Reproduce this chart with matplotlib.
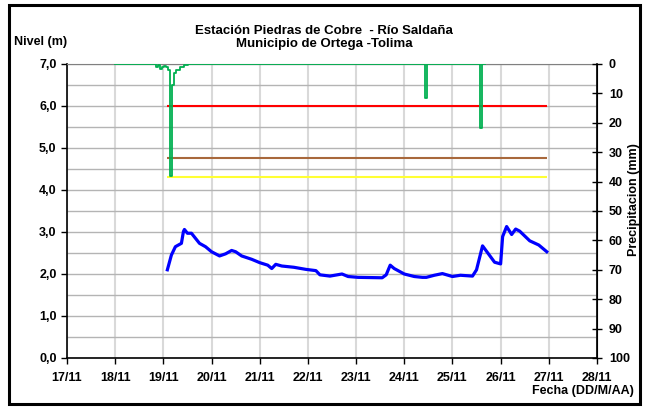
import numpy as np
import pandas as pd
import matplotlib
matplotlib.use("Agg")
import matplotlib.pyplot as plt
import matplotlib.dates as mdates
from matplotlib.patches import Rectangle
from matplotlib.ticker import FuncFormatter, MultipleLocator

plt.rcParams['font.family'] = ['Liberation Sans', 'DejaVu Sans']
plt.rcParams['font.weight'] = 'bold'

start = pd.Timestamp('2012-11-19 00:00')

# nivel (m): horas desde 19/11 00:00
nivel_horas = [2, 4, 6, 9, 10, 10.5, 12, 14, 16, 18, 21, 24, 28, 31, 34, 36, 39, 44, 48,
               52, 54, 56, 59, 65, 71, 76, 78, 83, 89, 92, 97, 109, 111, 113, 115, 120,
               125, 129, 131, 135, 139, 144, 148, 154, 156, 159, 163, 165, 168, 169, 171,
               173.5, 175.5, 177.5, 182.5, 187, 191]
nivel_m = [2.10, 2.45, 2.65, 2.73, 3.01, 3.06, 2.97, 2.97, 2.85, 2.73, 2.65, 2.53, 2.43,
           2.48, 2.56, 2.53, 2.43, 2.35, 2.27, 2.21, 2.13, 2.23, 2.19, 2.16, 2.11, 2.08,
           1.98, 1.95, 2.00, 1.94, 1.92, 1.91, 1.98, 2.21, 2.13, 2.00, 1.94, 1.92, 1.92,
           1.97, 2.01, 1.94, 1.97, 1.95, 2.10, 2.67, 2.41, 2.28, 2.24, 2.89, 3.13, 2.94,
           3.07, 3.02, 2.79, 2.69, 2.53]

# precipitacion (mm): serie horaria 18/11 00:00 - 25/11 16:00, eventos no nulos
precip_inicio, precip_fin = -24, 160
precip_horas = [-3, -2, -1, 0, 1, 2, 3, 4, 5, 6, 7, 8, 9, 10, 11, 12, 131, 158]
precip_mm = [0.9, 0.5, 1.7, 0.9, 0.8, 1.0, 2.0, 38.0, 7.1, 2.9, 1.9, 1.9, 1.0, 1.0,
             0.5, 0.5, 11.6, 21.8]

# umbrales de alerta (m)
umbrales = [6.0, 4.75, 4.3]
umbral_colores = ['#FF0000', '#A8683C', '#FFFF33']

t_nivel = start + pd.to_timedelta(nivel_horas, unit='h')
horas = np.arange(precip_inicio, precip_fin + 1)
pp = pd.Series(0.0, index=horas)
pp.loc[precip_horas] = precip_mm
t_pp = start + pd.to_timedelta(pp.index, unit='h')

fig = plt.figure(figsize=(6.46, 4.07), dpi=100)
ax = fig.add_axes([0.1037, 0.1204, 0.8204, 0.7224])
ax2 = ax.twinx()

ax.set_xlim(pd.Timestamp('2012-11-17'), pd.Timestamp('2012-11-28'))
ax.set_ylim(0, 7)
ax.yaxis.set_major_locator(MultipleLocator(1))
ax.yaxis.set_minor_locator(MultipleLocator(0.5))
ax.yaxis.set_major_formatter(FuncFormatter(lambda v, p: f"{v:.1f}".replace('.', ',')))
ax.xaxis.set_major_locator(mdates.DayLocator())
ax.xaxis.set_major_formatter(mdates.DateFormatter('%d/%m'))

ax.grid(True, axis='x', color='#D9D9D9', lw=1.5)
ax.grid(True, axis='y', which='both', color='#B4B4B4', lw=1.0)
ax.tick_params(axis='y', which='minor', length=0)
ax.tick_params(labelsize=9, length=4, width=1, direction='out')
ax.tick_params(axis='x', pad=6)
ax.set_axisbelow(True)

for s in ['left', 'bottom']:
    ax.spines[s].set_linewidth(1.2)
ax.spines['top'].set_color('#808080')

for u, c in zip(umbrales, umbral_colores):
    ax.hlines(u, t_nivel[0], t_nivel[-1], color=c, lw=1.5, zorder=2)

ax.plot(t_nivel, nivel_m, color='#0000FF', lw=2.3, zorder=3)

ax2.plot(t_pp, pp.values, color='#00B050', lw=1.3, drawstyle='steps-mid')
ax2.set_ylim(100, 0)
ax2.yaxis.set_major_locator(MultipleLocator(10))
ax2.tick_params(labelsize=9, length=7, width=1, direction='inout', pad=5)
ax2.spines['right'].set_linewidth(1.2)
ax2.spines['top'].set_visible(False)
ax2.spines['left'].set_visible(False)
ax2.spines['bottom'].set_visible(False)

fig.text(0.502, 0.925, 'Estación Piedras de Cobre  - Río Saldaña', ha='center', va='center',
         fontsize=9.5, fontweight='bold')
fig.text(0.502, 0.891, 'Municipio de Ortega -Tolima', ha='center', va='center',
         fontsize=9.5, fontweight='bold')
fig.text(0.022, 0.897, 'Nivel (m)', ha='left', va='center', fontsize=9, fontweight='bold')
fig.text(0.982, 0.040, 'Fecha (DD/M/AA)', ha='right', va='center', fontsize=9,
         fontweight='bold')
fig.text(0.981, 0.509, 'Precipitacion (mm)', ha='center', va='center', rotation=90,
         fontsize=9, fontweight='bold')

fig.patches.append(Rectangle((0.014, 0.008), 0.977, 0.98, transform=fig.transFigure,
                             fill=False, ec='black', lw=2.2))

fig.savefig('out.png', dpi=100)
